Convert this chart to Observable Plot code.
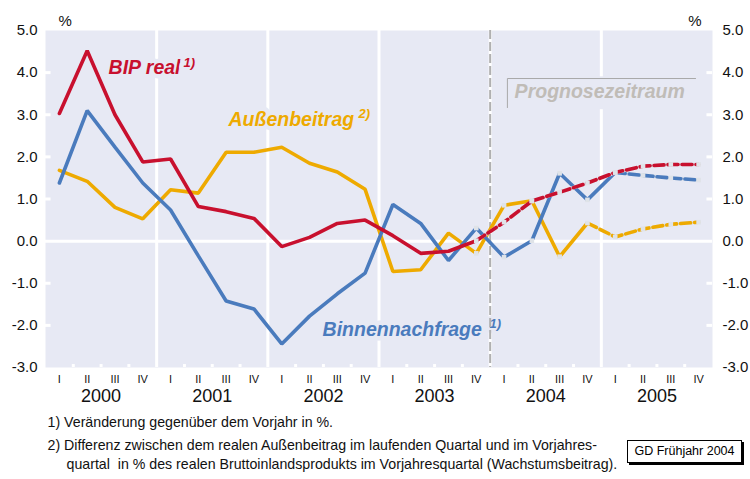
<!DOCTYPE html>
<html>
<head>
<meta charset="utf-8">
<script src="https://cdn.jsdelivr.net/npm/d3@7"></script>
<script src="https://cdn.jsdelivr.net/npm/@observablehq/plot@0.6"></script>
<style>
  html, body { margin: 0; padding: 0; background: #fff; }
  #wrap { position: relative; width: 750px; height: 479px; overflow: hidden; }
  #gd { position: absolute; left: 627px; top: 440px; width: 113px; height: 21px;
        border: 1px solid #000; box-shadow: 2px 2px 0 #000; background: #fff;
        font: 12.5px "Liberation Sans Narrow", "Liberation Sans", Arial, sans-serif;
        text-align: center; line-height: 21px; color: #000; }
</style>
</head>
<body>
<div id="wrap"></div>
<script>
// ---- data ----
const years = ["2000", "2001", "2002", "2003", "2004", "2005"];
const quarterLabels = ["I", "II", "III", "IV"];
const bipReal = [3.03, 4.52, 3.00, 1.88, 1.95, 0.82, 0.70, 0.54, -0.13, 0.09, 0.42, 0.50,
                 0.13, -0.29, -0.24, 0.01, 0.45, 0.95, 1.16, 1.38, 1.63, 1.78, 1.82, 1.82];
const binnennachfrage = [1.38, 3.10, 2.23, 1.38, 0.74, -0.35, -1.42, -1.61, -2.44, -1.78, -1.25, -0.76,
                         0.87, 0.42, -0.46, 0.31, -0.38, 0.01, 1.61, 0.98, 1.63, 1.56, 1.50, 1.45];
const aussenbeitrag = [1.68, 1.42, 0.80, 0.53, 1.22, 1.14, 2.11, 2.11, 2.23, 1.85, 1.64, 1.23,
                       -0.72, -0.68, 0.19, -0.29, 0.85, 0.96, -0.37, 0.43, 0.10, 0.29, 0.40, 0.45];
const yTicks = [-3, -2, -1, 0, 1, 2, 3, 4, 5];
const forecastStart = 15;            // 2003 IV: first point drawn with forecast markers
const dashStart = {bip: 15, binnen: 20, aussen: 19};
const footnotes = [
  "1) Veränderung gegenüber dem Vorjahr in %.",
  "2) Differenz zwischen dem realen Außenbeitrag im laufenden Quartal und im Vorjahres-",
  "quartal  in % des realen Bruttoinlandsprodukts im Vorjahresquartal (Wachstumsbeitrag)."
];
const source = "GD Frühjahr 2004";

// ---- derived tables ----
const RED = "#c8102e", BLUE = "#4a7bbd", YEL = "#eeaa00", BG = "#e7e9f4";
const quarters = d3.range(24).map(i => ({i, q: quarterLabels[i % 4], year: years[Math.floor(i / 4)]}));
const mk = (vals) => vals.map((v, i) => ({i, v}));
const series = {bip: mk(bipReal), binnen: mk(binnennachfrage), aussen: mk(aussenbeitrag)};
const xc = d => d.i + 0.5;
const yearBounds = [4, 8, 12, 16, 20];
const minorBounds = d3.range(1, 24).filter(b => b % 4 !== 0);
const forecastPts = [];
for (const k of ["bip", "binnen", "aussen"]) for (const d of series[k]) if (d.i >= forecastStart) forecastPts.push(d);

function seriesMarks(data, start, color) {
  const solid = data.filter(d => d.i <= start);
  const dashed = data.filter(d => d.i >= start);
  return [
    Plot.line(solid, {x: xc, y: "v", stroke: color, strokeWidth: 3.6, strokeLinejoin: "miter"}),
    Plot.line(dashed, {x: xc, y: "v", stroke: "#dde1e7", strokeWidth: 3.6}),
    Plot.line(dashed, {x: xc, y: "v", stroke: color, strokeWidth: 3.6, strokeDasharray: "10,4"})
  ];
}

const labelFont = {fontFamily: "Liberation Sans, Arial, sans-serif", fontWeight: "bold", fontStyle: "italic",
                   textAnchor: "start", stroke: BG, strokeWidth: 9};

const chart = Plot.plot({
  width: 750, height: 479,
  marginLeft: 45, marginRight: 38, marginTop: 30, marginBottom: 112,
  x: {domain: [0, 24], axis: null},
  y: {domain: [-3, 5], axis: null},
  style: {fontFamily: "Liberation Sans, Arial, sans-serif", background: "white", color: "#111"},
  marks: [
    Plot.frame({fill: BG, stroke: "none"}),
    Plot.ruleX(yearBounds, {stroke: "white", strokeWidth: 3}),
    Plot.ruleY([0], {stroke: "white", strokeWidth: 3}),
    Plot.ruleY(yTicks.filter(t => t > -3 && t < 5 && t !== 0), {x1: 0, x2: 0.2, stroke: "white", strokeWidth: 3}),
    Plot.ruleY(yTicks.filter(t => t > -3 && t < 5 && t !== 0), {x1: 23.8, x2: 24, stroke: "white", strokeWidth: 3}),
    Plot.ruleX(minorBounds, {y1: -3, y2: -2.93, stroke: "white", strokeWidth: 3}),
    // labels with background halos
    Plot.text(["BIP real"], {x: 2.27, y: 4.12, fill: RED, fontSize: 19.5, ...labelFont}),
    Plot.text(["1)"], {x: 4.97, y: 4.24, fill: RED, fontSize: 13, ...labelFont}),
    Plot.text(["Außenbeitrag"], {x: 6.585, y: 2.89, fill: YEL, fontSize: 19.5, ...labelFont}),
    Plot.text(["2)"], {x: 11.26, y: 3.03, fill: YEL, fontSize: 13, ...labelFont}),
    Plot.text(["Binnennachfrage"], {x: 9.97, y: -2.10, fill: BLUE, fontSize: 19.5, ...labelFont}),
    Plot.text(["1)"], {x: 15.98, y: -1.96, fill: BLUE, fontSize: 13, ...labelFont}),
    // forecast separator
    Plot.ruleX([16], {stroke: "#b0b0b0", strokeWidth: 2, strokeDasharray: "9,3"}),
    Plot.rect([0], {x1: 16.62, x2: 23.39, y1: 3.12, y2: 3.9, fill: BG}),
    Plot.line([[16.62, 3.17], [16.62, 3.86], [23.39, 3.86]], {stroke: "#a8a8a8", strokeWidth: 1}),
    Plot.text(["Prognosezeitraum"], {x: 16.88, y: 3.55, fill: "#c0bcb7", fontSize: 19.5, ...labelFont, strokeWidth: 0}),
    // data
    ...seriesMarks(series.aussen, dashStart.aussen, YEL),
    ...seriesMarks(series.binnen, dashStart.binnen, BLUE),
    ...seriesMarks(series.bip, dashStart.bip, RED),
    Plot.dot(forecastPts, {x: xc, y: "v", symbol: "square", r: 2.6, fill: "#dfe3e8", stroke: "none"}),
    // axes
    Plot.axisY(yTicks, {anchor: "left", label: null, tickSize: 0, tickPadding: 8, fontSize: 15, tickFormat: d => d.toFixed(1)}),
    Plot.axisY(yTicks, {anchor: "right", label: null, tickSize: 0, tickPadding: 10, fontSize: 15, tickFormat: d => d.toFixed(1)}),
    Plot.text(["%"], {frameAnchor: "top-left", dx: 13, dy: -15, fontSize: 15}),
    Plot.text(["%"], {frameAnchor: "top-right", dx: -11, dy: -15, fontSize: 15}),
    Plot.text(quarters, {x: xc, text: "q", frameAnchor: "bottom", dy: 15, fontSize: 11,
                         fontFamily: "Liberation Sans Narrow, Liberation Sans, sans-serif"}),
    Plot.text(years.map((y, k) => ({y, k})), {x: d => d.k * 4 + 2, text: "y", frameAnchor: "bottom", dy: 34, fontSize: 18}),
    // footnotes
    Plot.text([footnotes[0]], {frameAnchor: "bottom-left", textAnchor: "start", dx: 2, dy: 59, fontSize: 14.2,
                               fontFamily: "Liberation Sans Narrow, Liberation Sans, sans-serif"}),
    Plot.text([footnotes[1]], {frameAnchor: "bottom-left", textAnchor: "start", dx: 2, dy: 82, fontSize: 14.2,
                               fontFamily: "Liberation Sans Narrow, Liberation Sans, sans-serif"}),
    Plot.text([footnotes[2]], {frameAnchor: "bottom-left", textAnchor: "start", dx: 21, dy: 101, fontSize: 14.2,
                               fontFamily: "Liberation Sans Narrow, Liberation Sans, sans-serif"})
  ]
});
const wrap = document.getElementById("wrap");
wrap.appendChild(chart);
const gd = document.createElement("div");
gd.id = "gd";
gd.textContent = source;
wrap.appendChild(gd);
</script>
</body>
</html>
